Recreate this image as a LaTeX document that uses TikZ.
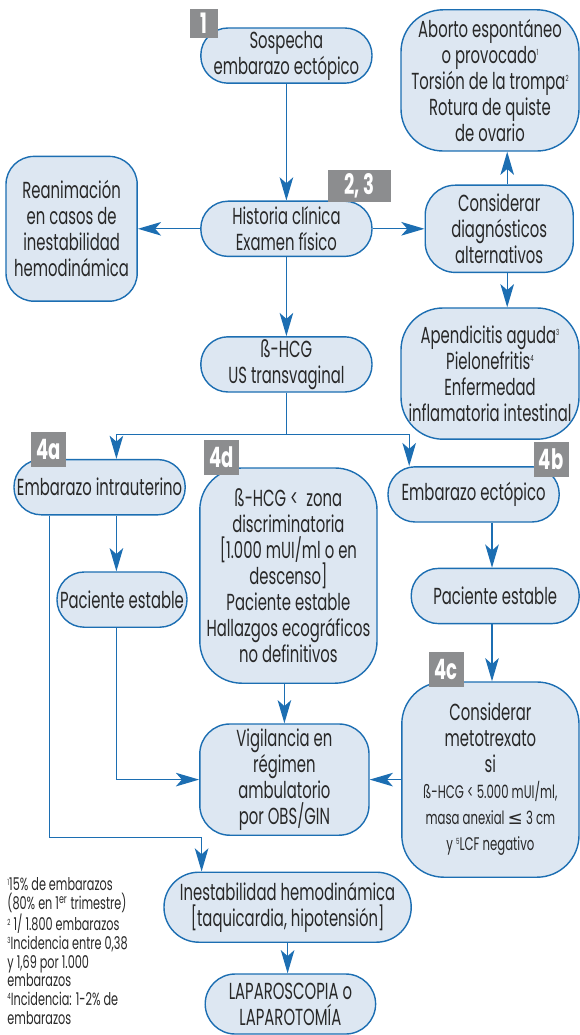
\documentclass[tikz,border=0pt]{standalone}
\usepackage{fontspec}
\setmainfont[FakeStretch=0.64]{Poppins}
\newfontfamily\symfnt{DejaVu Sans}
\usepackage{tikz}
\usetikzlibrary{arrows.meta,positioning,calc}
\definecolor{egBlue}  {RGB}{ 28,110,178}
\definecolor{egBlueL} {RGB}{221,231,242}
\definecolor{egGrey}  {RGB}{140,141,143}
\definecolor{egText}  {RGB}{ 40, 40, 40}
\newcommand{\boxfont}{\fontsize{16.5}{18.5}\selectfont}
\newcommand{\minifont}{\fontsize{13}{18.5}\selectfont}
\newcommand{\notefont}{\fontsize{12.5}{13.3}\selectfont}
\newcommand{\fnm}[1]{\raisebox{0.6ex}{\fontsize{6}{6}\selectfont #1}}

\begin{document}
\begin{tikzpicture}[
  every node/.style={font=\boxfont,text=egText},
  box/.style={draw=egBlue,line width=1pt,fill=egBlueL,align=center,inner sep=0pt},
  pill/.style={box,rounded corners=0.68cm,minimum width=4.28cm,minimum height=1.38cm},
  blob/.style={box,rounded corners=1.05cm},
  tag/.style={fill=egGrey,text=white,font=\fontsize{20}{20}\selectfont\bfseries,
              inner sep=0pt,minimum width=0.88cm,minimum height=0.88cm},
  arr/.style={draw=egBlue,line width=0.9pt,
              -{Stealth[length=0.58cm,width=0.34cm,inset=0.15cm]}},
  note/.style={font=\notefont,align=left,anchor=north west,inner sep=0pt}
]
\useasboundingbox (0,0) rectangle (14.5,-25.875);

% top of the chart
\node[pill] (susp) at (7.16,-1.39) {Sospecha\\embarazo ectópico};
\node[tag,minimum width=0.7cm,minimum height=0.72cm]
   at ($(susp.north west)+(0.10,0.09)$) (t1) {1};

\node[pill] (hist) at (7.16,-5.72) {Historia clínica\\Examen físico};
\node[tag,minimum width=1.58cm,minimum height=0.8cm]
   at ($(hist.north east)+(-0.34,0.36)$) (t23) {2, 3};

\node[blob,rounded corners=0.7cm,minimum width=3.28cm,minimum height=3.62cm]
   (rean) at (1.79,-5.72) {Reanimación\\en casos de\\inestabilidad\\hemodinámica};

% alternative diagnoses
\node[blob,rounded corners=0.75cm,minimum width=3.7cm,minimum height=2.18cm]
   (diag) at (12.48,-5.72) {Considerar\\diagnósticos\\alternativos};
\node[blob,minimum width=4.45cm,minimum height=3.53cm] (abort) at (12.25,-2.01)
   {Aborto espontáneo\\o provocado\fnm{1}\\Torsión de la trompa\fnm{2}\\Rotura de quiste\\de ovario};
\node[blob,minimum width=4.45cm,minimum height=3.28cm] (alt) at (12.25,-9.34)
   {Apendicitis aguda\fnm{3}\\Pielonefritis\fnm{4}\\Enfermedad\\inflamatoria intestinal};

\node[pill] (hcg) at (7.16,-9.11) {ß-HCG\\US transvaginal};

% three branches
\node[pill] (iu) at (2.49,-12.18) {Embarazo intrauterino};
\node[tag] at ($(iu.north west)+(0.88,0.24)$) (t4a) {4a};

\node[pill] (ect) at (11.84,-12.36) {Embarazo ectópico};
\node[tag] at ($(ect.north east)+(-0.22,0.16)$) (t4b) {4b};

\node[blob,minimum width=4.43cm,minimum height=5.38cm] (disc) at (7.21,-14.39)
   {ß-HCG <\ \ zona\\discriminatoria\\{[}1.000 mUI/ml o en\\descenso{]}\\Paciente estable\\Hallazgos ecográficos\\no definitivos};
\node[tag] at ($(disc.north west)+(0.56,0.24)$) (t4d) {4d};

\node[pill,minimum width=3.25cm] (stL) at (3.05,-14.99) {Paciente estable};
\node[pill,minimum width=4.2cm] (stR) at (12.38,-14.9) {Paciente estable};

\node[blob,minimum width=4.43cm,minimum height=4.88cm] (mtx) at (12.26,-19.49)
   {Considerar\\metotrexato\\si\\{\minifont ß-HCG < 5.000 mUI/ml,}\\
    {\minifont masa anexial {\symfnt ≤} 3 cm}\\{\minifont y \fnm{5}LCF negativo}};
\node[tag] at ($(mtx.north west)+(1.13,0.29)$) (t4c) {4c};

\node[blob,rounded corners=0.75cm,minimum width=4.23cm,minimum height=2.78cm]
   (vig) at (7.11,-19.49) {Vigilancia en\\régimen\\ambulatorio\\por OBS/GIN};

% bottom
\node[pill,rounded corners=0.87cm,minimum width=6.18cm,minimum height=1.75cm]
   (inst) at (7.19,-22.68) {Inestabilidad hemodinámica\\{[}taquicardia, hipotensión{]}};
\node[pill,rounded corners=0.75cm,minimum width=4.26cm,minimum height=1.5cm]
   (lap) at (7.26,-25.1) {LAPAROSCOPIA o\\LAPAROTOMÍA};

\node[note] (fn) at (0.18,-21.94)
   {\fnm{1}15\% de embarazos\\(80\% en 1\textsuperscript{er} trimestre)\\
    \fnm{2} 1/ 1.800 embarazos\\\fnm{3}Incidencia entre 0,38\\
    y 1,69 por 1.000\\embarazos\\\fnm{4}Incidencia: 1-2\% de\\embarazos};

% connectors
\coordinate (dN)     at ($(diag.north)+(0.2,0)$);
\coordinate (dS)     at ($(diag.south)+(0.2,0)$);
\coordinate (split)  at ($(hcg.south)+(0,-1.05)$);
\coordinate (iuTop)  at ($(iu.north)+(0.42,0)$);
\coordinate (ectTop) at ($(ect.north)+(-1.61,0)$);
\coordinate (ectBot) at ($(ect.south)+(0.46,0)$);
\coordinate (iuOut)  at ($(iu.south)+(-1.26,0)$);
\coordinate (elbow)  at ($(iuOut)+(0,-8.05)$);
\coordinate (instIn) at ($(inst.north)+(-2.15,0)$);

\draw[arr] (susp) -- (hist);
\draw[arr] (hist) -- (rean);
\draw[arr] (hist) -- (diag);
\draw[arr] (dN) -- (dN |- abort.south);
\draw[arr] (dS) -- (dS |- alt.north);
\draw[arr] (hist) -- (hcg);
\draw[arr] (hcg.south) -- (split) -| (iuTop);
\draw[arr] (split) -| (ectTop);
\draw[arr] (iuTop |- iu.south) -- (iuTop |- stL.north);
\draw[arr] (iuTop |- stL.south) |- (vig.west);
\draw[arr] (ectBot) -- (ectBot |- stR.north);
\draw[arr] (ectBot |- stR.south) -- (ectBot |- mtx.north);
\draw[arr] (vig.north |- disc.south) -- (vig.north);
\draw[arr] (mtx.west |- vig.east) -- (vig.east);
\draw[arr] (iuOut) -- (elbow) -| (instIn);
\draw[arr] (inst.south) -- (inst.south |- lap.north);
\end{tikzpicture}
\end{document}
